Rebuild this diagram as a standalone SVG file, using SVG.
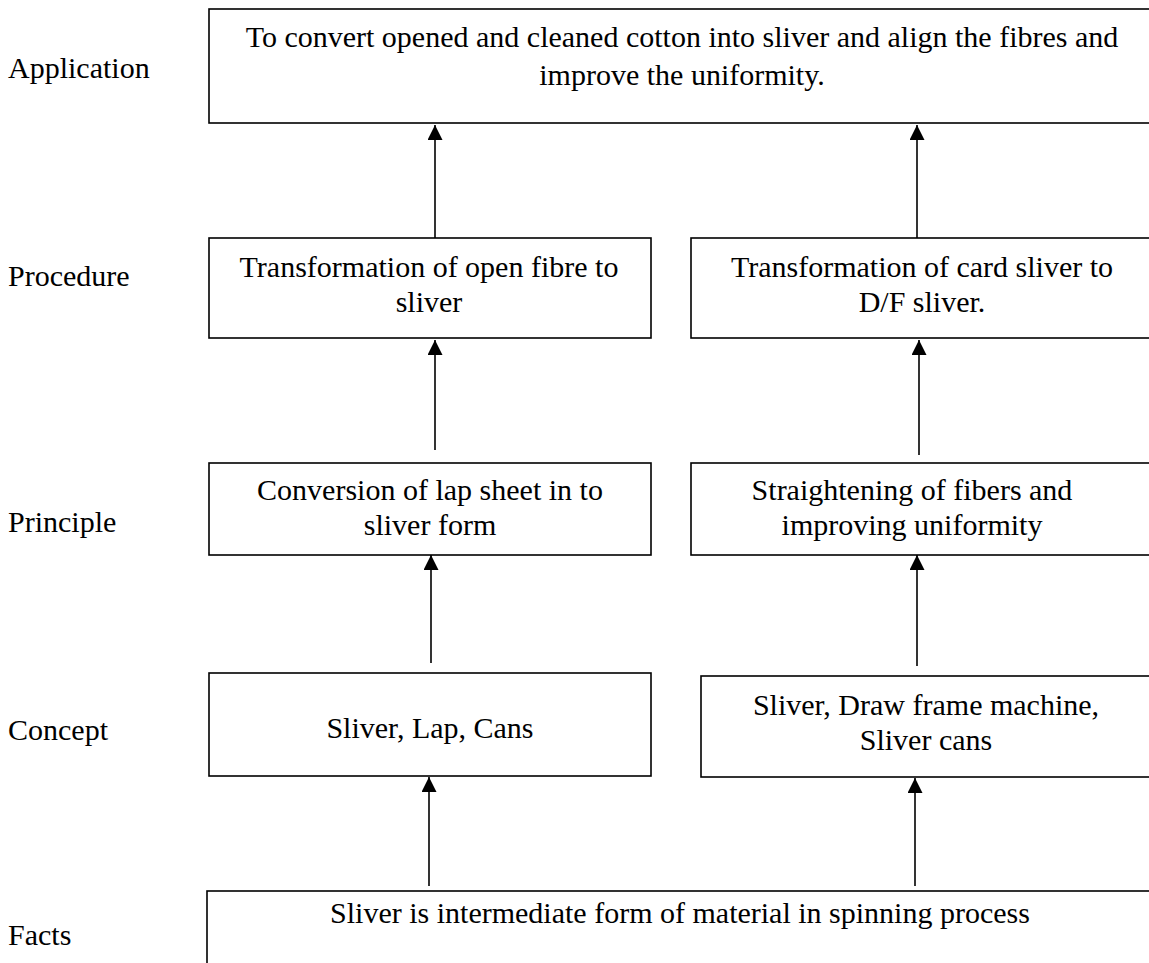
<svg xmlns="http://www.w3.org/2000/svg" width="1149" height="963" viewBox="0 0 1149 963">
  <style>
    .box { fill: #ffffff; stroke: #000000; stroke-width: 1.6; }
    .txt { font-family: "Liberation Serif", "Times New Roman", serif; font-size: 30px; fill: #000000; }
    .mid { text-anchor: middle; }
    .conn { stroke: #000000; stroke-width: 1.6; fill: none; marker-end: url(#arrow); }
  </style>
  <defs>
    <marker id="arrow" viewBox="0 0 10 10" refX="10" refY="5" markerUnits="userSpaceOnUse" markerWidth="15" markerHeight="15" orient="auto">
      <path d="M0,0 L10,5 L0,10 z" fill="#000000"/>
    </marker>
  </defs>
  <rect width="1149" height="963" fill="#ffffff"/>

  <!-- level labels -->
  <g id="levels">
    <text class="txt" x="8" y="78">Application</text>
    <text class="txt" x="8" y="286">Procedure</text>
    <text class="txt" x="8" y="532">Principle</text>
    <text class="txt" x="8" y="740">Concept</text>
    <text class="txt" x="8" y="945">Facts</text>
  </g>

  <!-- application -->
  <g id="application">
    <rect class="box" x="209" y="9" width="960" height="114"/>
    <text class="txt mid" x="682" y="47">To convert opened and cleaned cotton into sliver and align the fibres and</text>
    <text class="txt mid" x="682" y="85">improve the uniformity.</text>
  </g>

  <!-- procedure -->
  <g id="procedure-left">
    <rect class="box" x="209" y="238" width="442" height="100"/>
    <text class="txt mid" x="429" y="277">Transformation of open fibre to</text>
    <text class="txt mid" x="429" y="312">sliver</text>
  </g>
  <g id="procedure-right">
    <rect class="box" x="691" y="238" width="480" height="100"/>
    <text class="txt mid" x="922" y="277">Transformation of card sliver to</text>
    <text class="txt mid" x="922" y="312">D/F sliver.</text>
  </g>

  <!-- principle -->
  <g id="principle-left">
    <rect class="box" x="209" y="463" width="442" height="92"/>
    <text class="txt mid" x="430" y="500">Conversion of lap sheet in to</text>
    <text class="txt mid" x="430" y="535">sliver form</text>
  </g>
  <g id="principle-right">
    <rect class="box" x="691" y="463" width="480" height="92"/>
    <text class="txt mid" x="912" y="500">Straightening of fibers and</text>
    <text class="txt mid" x="912" y="535">improving uniformity</text>
  </g>

  <!-- concept -->
  <g id="concept-left">
    <rect class="box" x="209" y="673" width="442" height="103"/>
    <text class="txt mid" x="430" y="738">Sliver, Lap, Cans</text>
  </g>
  <g id="concept-right">
    <rect class="box" x="701" y="676" width="470" height="101"/>
    <text class="txt mid" x="926" y="715">Sliver, Draw frame machine,</text>
    <text class="txt mid" x="926" y="750">Sliver cans</text>
  </g>

  <!-- facts -->
  <g id="facts">
    <rect class="box" x="207" y="891" width="970" height="100"/>
    <text class="txt mid" x="680" y="923">Sliver is intermediate form of material in spinning process</text>
  </g>

  <!-- connectors -->
  <g id="connectors">
    <line class="conn" x1="435" y1="238" x2="435" y2="125"/>
    <line class="conn" x1="917" y1="238" x2="917" y2="125"/>
    <line class="conn" x1="435" y1="450" x2="435" y2="340"/>
    <line class="conn" x1="919" y1="455" x2="919" y2="340"/>
    <line class="conn" x1="431" y1="663" x2="431" y2="555"/>
    <line class="conn" x1="917" y1="666" x2="917" y2="555"/>
    <line class="conn" x1="429" y1="886" x2="429" y2="777"/>
    <line class="conn" x1="915" y1="886" x2="915" y2="778"/>
  </g>
</svg>
